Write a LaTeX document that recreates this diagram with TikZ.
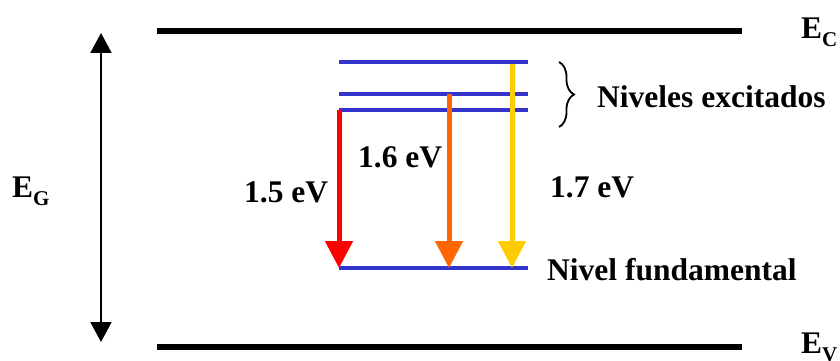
\documentclass[tikz,border=0pt]{standalone}
\usepackage{fontspec}
\setmainfont{Liberation Serif}
\usetikzlibrary{arrows.meta,decorations.pathreplacing}
\definecolor{lvlblue}{RGB}{51,51,204}
\definecolor{tred}{RGB}{255,0,0}
\definecolor{torange}{RGB}{255,102,0}
\definecolor{tyellow}{RGB}{255,204,0}
\tikzset{
  band/.style={line width=6pt, black},
  lvl/.style={line width=4.5pt, lvlblue},
  trans/.style={line width=5pt, -{Triangle[length=27pt,width=27pt]}},
  lbl/.style={font=\fontsize{31.5}{37}\selectfont\bfseries, inner sep=0pt, anchor=base west},
}
\newcommand{\subsc}[1]{\raisebox{-0.26em}{\fontsize{21}{25}\selectfont #1}}
\begin{document}
\begin{tikzpicture}[x=1pt,y=-1pt]
\useasboundingbox (0,0) rectangle (840,361);
% bands
\coordinate (ecL) at (157,31); \coordinate (ecR) at (742,31);
\coordinate (evL) at (157,347); \coordinate (evR) at (742,347);
\draw[band] (ecL) -- (ecR);
\draw[band] (evL) -- (evR);
% gap arrow
\coordinate (gT) at (101,33); \coordinate (gB) at (101,342);
\draw[line width=2pt, {Triangle[length=20pt,width=21pt]}-{Triangle[length=20pt,width=21pt]}] (gT) -- (gB);
% levels
\coordinate (l1L) at (339,62); \coordinate (l1R) at (528,62);
\coordinate (l2L) at (339,94); \coordinate (l2R) at (528,94);
\coordinate (l3L) at (339,110); \coordinate (l3R) at (528,110);
\coordinate (l0L) at (339,268); \coordinate (l0R) at (528,268);
\draw[lvl] (l1L) -- (l1R);
\draw[lvl] (l2L) -- (l2R);
\draw[lvl] (l3L) -- (l3R);
\draw[lvl] (l0L) -- (l0R);
% transitions
\coordinate (rS) at (339,110); \coordinate (rE) at (339,268);
\coordinate (oS) at (449,94); \coordinate (oE) at (449,268);
\coordinate (yS) at (512,64); \coordinate (yE) at (512,268);
\draw[trans, tred] (rS) -- (rE);
\draw[trans, torange] (oS) -- (oE);
\draw[trans, tyellow] (yS) -- (yE);
% brace
\coordinate (bT) at (559,62); \coordinate (bB) at (559,127);
\draw[line width=1.8pt, decorate, decoration={brace, amplitude=15pt, aspect=0.5}] (bT) -- (bB);
% labels
\node[lbl] (ec) at (801,38) {E\subsc{C}};
\node[lbl] (ev) at (801,353) {E\subsc{V}};
\node[lbl] (eg) at (12,197) {E\subsc{G}};
\node[lbl] (exc) at (597,107) {Niveles excitados};
\node[lbl] (fund) at (547,280) {Nivel fundamental};
\node[lbl] (t15) at (244,202) {1.5 eV};
\node[lbl] (t16) at (358,167) {1.6 eV};
\node[lbl] (t17) at (550,197) {1.7 eV};
\end{tikzpicture}
\end{document}
